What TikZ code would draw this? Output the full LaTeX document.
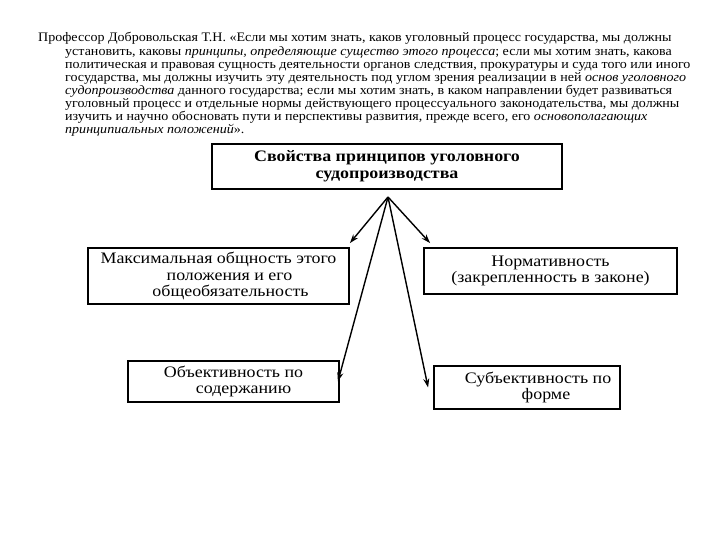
\documentclass[tikz,border=0pt]{standalone}
\usepackage{fontspec}
\setmainfont{Liberation Serif}
\newfontfamily\parafont[FakeStretch=1.08]{Liberation Serif}
\newfontfamily\boxfont[FakeStretch=1.12]{Liberation Serif}
\newfontfamily\topfont[FakeStretch=1.12]{Liberation Serif}
\usetikzlibrary{arrows.meta}
\begin{document}
\begin{tikzpicture}[x=1pt,y=-1pt,
  para/.style={anchor=base west,inner sep=0pt,font=\parafont\fontsize{13}{13}\selectfont},
  box/.style={draw=black,line width=1.8pt,fill=white,align=center,inner sep=2pt,
    font=\boxfont\fontsize{16}{16.3}\selectfont},
  topbox/.style={box,line width=2.8pt,font=\topfont\bfseries\fontsize{16}{17}\selectfont},
  arr/.style={line width=1.4pt,-{Stealth[length=9pt,width=6pt]}}]
\useasboundingbox (0,0) rectangle (720,540);
\fill[white] (0,0) rectangle (720,540);
% paragraph
\node[para] (p1) at (38,42) {Профессор Добровольская Т.Н. «Если мы хотим знать, каков уголовный процесс государства, мы должны};
\node[para] (p2) at (65,55.1) {установить, каковы \textit{принципы, определяющие существо этого процесса}; если мы хотим знать, какова};
\node[para] (p3) at (65,68.2) {политическая и правовая сущность деятельности органов следствия, прокуратуры и суда того или иного};
\node[para] (p4) at (65,81.3) {государства, мы должны изучить эту деятельность под углом зрения реализации в ней \textit{основ уголовного}};
\node[para] (p5) at (65,94.4) {\textit{судопроизводства} данного государства; если мы хотим знать, в каком направлении будет развиваться};
\node[para] (p6) at (65,107.5) {уголовный процесс и отдельные нормы действующего процессуального законодательства, мы должны};
\node[para] (p7) at (65,120.6) {изучить и научно обосновать пути и перспективы развития, прежде всего, его \textit{основополагающих}};
\node[para] (p8) at (65,133.7) {\textit{принципиальных положений}».};
% boxes
\node[topbox,minimum width=350pt,minimum height=45pt] (top) at (387,166.5)
  {Свойства принципов уголовного\\судопроизводства};
\node[box,minimum width=261pt,minimum height=56pt] (b1) at (218.5,276)
  {Максимальная общность этого\\\hspace*{22pt}положения и его\\\hspace*{24pt}общеобязательность};
\node[box,minimum width=253pt,minimum height=46pt] (b2) at (550.5,271)
  {Нормативность\\(закрепленность в законе)};
\node[box,minimum width=211pt,minimum height=41pt] (b3) at (233.5,381.5)
  {Объективность по\\\hspace*{20pt}содержанию};
\node[box,minimum width=186pt,minimum height=43pt] (b4) at (527,387.5)
  {\hspace*{22pt}Субъективность по\\\hspace*{38pt}форме};
% connectors
\coordinate (apex) at (388,197);
\draw[arr] (apex) -- ([shift={(0,-4)}]b1.north east);
\draw[arr] (apex) -- ([shift={(-2,0)}]b3.east);
\draw[arr] (apex) -- ([shift={(-5,0)}]b4.west);
\draw[arr] (apex) -- ([shift={(7,-4)}]b2.north west);
\end{tikzpicture}
\end{document}
